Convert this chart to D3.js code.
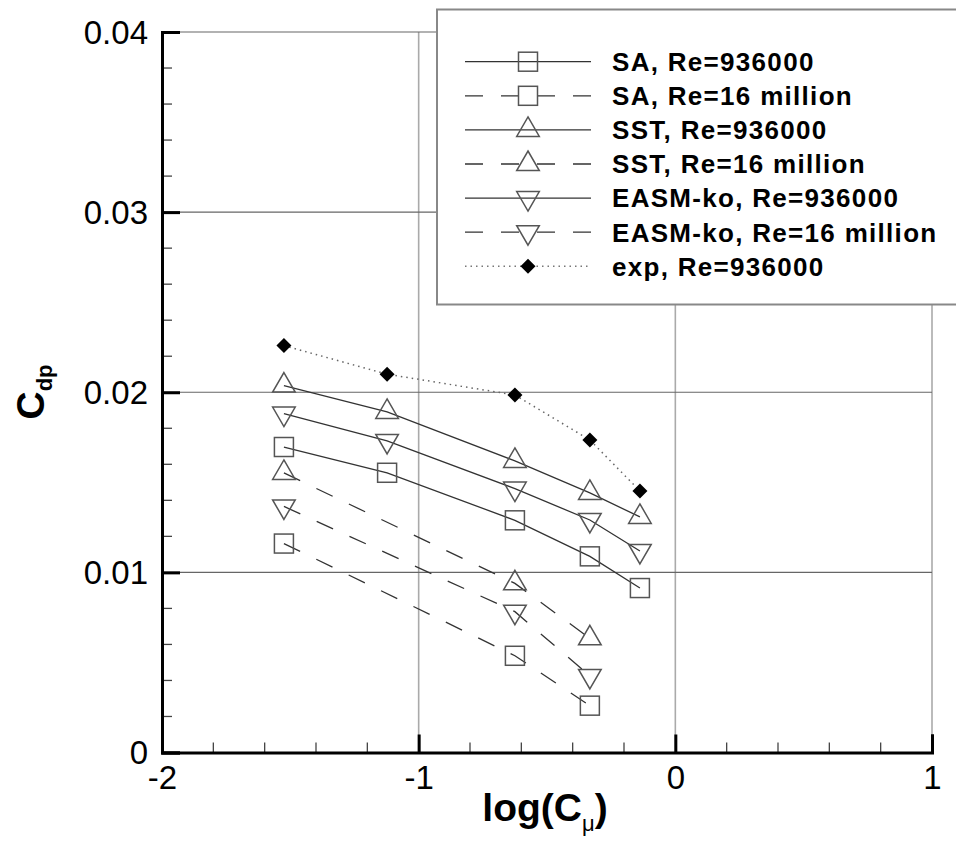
<!DOCTYPE html>
<html>
<head>
<meta charset="utf-8">
<style>
    body { margin: 0; background: #fff; }
    text { font-family: "Liberation Sans", Arial, sans-serif; }
</style>
</head>
<body>
    <script src="https://d3js.org/d3.v7.js"></script>
    <script>
        // data, x = log(Cmu), y = Cdp
        const logCmu = [-1.525, -1.123, -0.625, -0.333, -0.138]
        const logCmu16 = [-1.525, -0.625, -0.333]

        const saLow = [0.01696, 0.01553, 0.01289, 0.01089, 0.00913]
        const sa16 = [0.01160, 0.00537, 0.00260]
        const sstLow = [0.02037, 0.01891, 0.01619, 0.01441, 0.01308]
        const sst16 = [0.01552, 0.00939, 0.00634]
        const easmLow = [0.01882, 0.01730, 0.01465, 0.01291, 0.01119]
        const easm16 = [0.01366, 0.00782, 0.00425]
        const expLow = [0.02259, 0.02100, 0.01985, 0.01735, 0.01452]

        const xTicks = [-2, -1, 0, 1]
        const yTicks = [0, 0.01, 0.02, 0.03, 0.04]

        const series = [
            { name: 'SA, Re=936000', xs: logCmu, ys: saLow, dash: null, marker: 'square' },
            { name: 'SA, Re=16 million', xs: logCmu16, ys: sa16, dash: '18,18', marker: 'square' },
            { name: 'SST, Re=936000', xs: logCmu, ys: sstLow, dash: null, marker: 'up' },
            { name: 'SST, Re=16 million', xs: logCmu16, ys: sst16, dash: '18,18', marker: 'up' },
            { name: 'EASM-ko, Re=936000', xs: logCmu, ys: easmLow, dash: null, marker: 'down' },
            { name: 'EASM-ko, Re=16 million', xs: logCmu16, ys: easm16, dash: '18,18', marker: 'down' },
            { name: 'exp, Re=936000', xs: logCmu, ys: expLow, dash: '1.5,4', marker: 'diamond' }
        ]

        const w = 956
        const h = 842

        const xScale = d3.scaleLinear().domain([-2, 1]).range([162, 932])
        const yScale = d3.scaleLinear().domain([0, 0.04]).range([752.5, 32])

        const svg = d3.select('body')
                    .append('svg')
                    .attr('width', w)
                    .attr('height', h)

        // grid
        svg.append('g')
            .selectAll('line')
            .data(xTicks.slice(1))
            .enter()
            .append('line')
            .attr('x1', d => xScale(d))
            .attr('x2', d => xScale(d))
            .attr('y1', yScale(0))
            .attr('y2', yScale(0.04))
            .attr('stroke', '#aaa')
            .attr('stroke-width', 1.6)

        svg.append('g')
            .selectAll('line')
            .data(yTicks.slice(1))
            .enter()
            .append('line')
            .attr('x1', xScale(-2))
            .attr('x2', xScale(1))
            .attr('y1', d => yScale(d))
            .attr('y2', d => yScale(d))
            .attr('stroke', '#666')
            .attr('stroke-width', 1.2)

        // minor ticks
        const xMinor = d3.range(-2, 1.0001, 0.2).filter(v => Math.abs(v - Math.round(v)) > 1e-6)
        const yMinor = d3.range(0, 0.04001, 0.002).filter(v => Math.abs(v * 100 - Math.round(v * 100)) > 1e-6)

        svg.append('g')
            .selectAll('line')
            .data(xMinor)
            .enter()
            .append('line')
            .attr('x1', d => xScale(d))
            .attr('x2', d => xScale(d))
            .attr('y1', yScale(0))
            .attr('y2', yScale(0) - 10)
            .attr('stroke', '#444')
            .attr('stroke-width', 1.3)

        svg.append('g')
            .selectAll('line')
            .data(yMinor)
            .enter()
            .append('line')
            .attr('x1', xScale(-2))
            .attr('x2', xScale(-2) + 10)
            .attr('y1', d => yScale(d))
            .attr('y2', d => yScale(d))
            .attr('stroke', '#444')
            .attr('stroke-width', 1.3)

        // axes
        const xAxis = d3.axisBottom(xScale)
                        .tickValues(xTicks)
                        .tickSize(-18)
                        .tickPadding(16)
                        .tickFormat(d => String(d))

        const yAxis = d3.axisLeft(yScale)
                        .tickValues(yTicks)
                        .tickSize(-18)
                        .tickPadding(32)
                        .tickFormat(d => d === 0 ? '0' : d3.format('.2f')(d))

        const gx = svg.append('g')
            .attr('transform', 'translate(0,' + yScale(0) + ')')
            .call(xAxis)
        gx.select('.domain').attr('stroke', '#000').attr('stroke-width', 3)
        gx.selectAll('.tick line').attr('stroke', '#000').attr('stroke-width', 3)
        gx.selectAll('.tick text')
            .attr('font-size', 33)
            .attr('fill', '#000')
            .attr('dy', '0.62em')

        const gy = svg.append('g')
            .attr('transform', 'translate(' + xScale(-2) + ',0)')
            .call(yAxis)
        gy.select('.domain').attr('stroke', '#000').attr('stroke-width', 3)
        gy.selectAll('.tick line').attr('stroke', '#000').attr('stroke-width', 3)
        gy.selectAll('.tick text')
            .attr('font-size', 33)
            .attr('fill', '#000')
            .attr('x', -14)
            .attr('dy', '0.34em')

        // axis titles
        const xt = svg.append('text')
            .attr('x', 545)
            .attr('y', 821)
            .attr('text-anchor', 'middle')
            .attr('font-size', 39)
            .attr('font-weight', 'bold')
        xt.append('tspan').text('log(C')
        xt.append('tspan').text('\u03bc').attr('font-size', 22).attr('font-weight', 'normal').attr('dy', 10)
        xt.append('tspan').text(')').attr('dy', -10)

        const yt = svg.append('text')
            .attr('transform', 'translate(44,392) rotate(-90)')
            .attr('text-anchor', 'middle')
            .attr('font-size', 39)
            .attr('font-weight', 'bold')
        yt.append('tspan').text('C')
        yt.append('tspan').text('dp').attr('font-size', 22).attr('dy', 8)

        // marker drawing
        function drawMarker(g, type, cx, cy) {
            if (type === 'square') {
                g.append('rect')
                    .attr('x', cx - 9.5).attr('y', cy - 9.5)
                    .attr('width', 19).attr('height', 19)
                    .attr('fill', 'none').attr('stroke', '#555').attr('stroke-width', 1.5)
            } else if (type === 'up') {
                g.append('path')
                    .attr('d', 'M' + cx + ',' + (cy - 13) + 'L' + (cx + 11.3) + ',' + (cy + 6.5) + 'L' + (cx - 11.3) + ',' + (cy + 6.5) + 'Z')
                    .attr('fill', 'none').attr('stroke', '#555').attr('stroke-width', 1.5)
            } else if (type === 'down') {
                g.append('path')
                    .attr('d', 'M' + cx + ',' + (cy + 13) + 'L' + (cx + 11.3) + ',' + (cy - 6.5) + 'L' + (cx - 11.3) + ',' + (cy - 6.5) + 'Z')
                    .attr('fill', 'none').attr('stroke', '#555').attr('stroke-width', 1.5)
            } else {
                g.append('path')
                    .attr('d', 'M' + cx + ',' + (cy - 7.5) + 'L' + (cx + 7.5) + ',' + cy + 'L' + cx + ',' + (cy + 7.5) + 'L' + (cx - 7.5) + ',' + cy + 'Z')
                    .attr('fill', '#000')
            }
        }

        const line = d3.line()
                       .x(d => xScale(d[0]))
                       .y(d => yScale(d[1]))

        series.forEach(s => {
            const pts = s.xs.map((x, i) => [x, s.ys[i]])
            const g = svg.append('g')
            g.append('path')
                .datum(pts)
                .attr('d', line)
                .attr('fill', 'none')
                .attr('stroke', s.marker === 'diamond' ? '#666' : '#333')
                .attr('stroke-width', s.marker === 'diamond' ? 1.5 : 1.3)
                .attr('stroke-dasharray', s.dash)
            pts.forEach(p => drawMarker(g, s.marker, xScale(p[0]), yScale(p[1])))
        })

        // legend
        const legend = svg.append('g')
        legend.append('rect')
            .attr('x', 437)
            .attr('y', 9.5)
            .attr('width', 530)
            .attr('height', 295)
            .attr('fill', '#fff')
            .attr('stroke', '#888')
            .attr('stroke-width', 2)

        series.forEach((s, i) => {
            const ly = 61.7 + i * 34.1
            const g = legend.append('g')
            g.append('line')
                .attr('x1', 465).attr('x2', 591)
                .attr('y1', ly).attr('y2', ly)
                .attr('stroke', s.marker === 'diamond' ? '#777' : '#333')
                .attr('stroke-width', s.marker === 'diamond' ? 1.5 : 1.3)
                .attr('stroke-dasharray', s.dash)
            drawMarker(g, s.marker, 528, ly)
            g.append('text')
                .attr('x', 612)
                .attr('y', ly)
                .attr('dy', '0.36em')
                .attr('font-size', 26)
                .attr('font-weight', 'bold')
                .attr('letter-spacing', 1.3)
                .text(s.name)
        })
    </script>
</body>
</html>
